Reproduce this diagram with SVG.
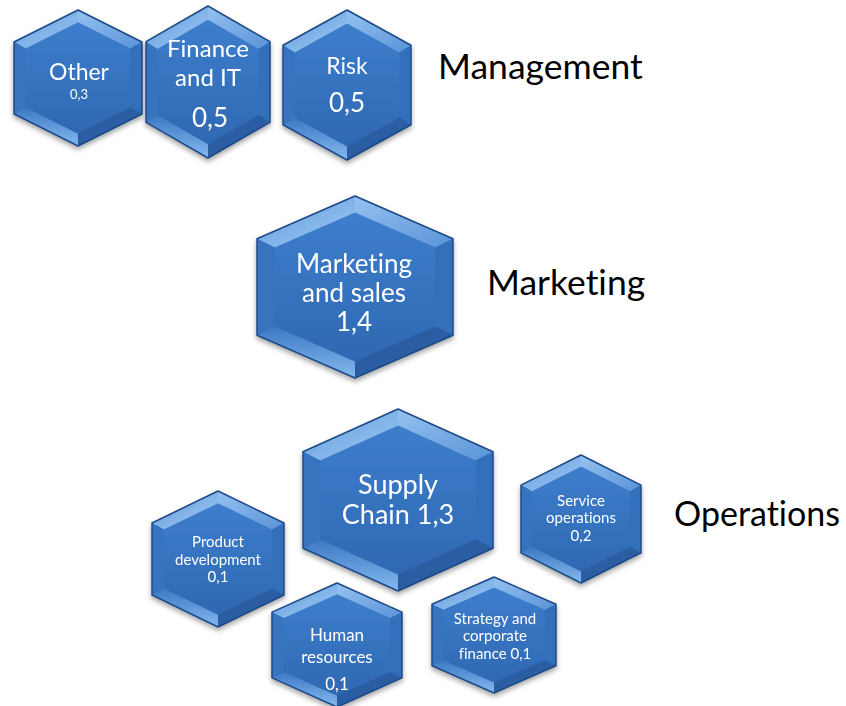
<svg xmlns="http://www.w3.org/2000/svg" xmlns:xlink="http://www.w3.org/1999/xlink" width="846" height="706" viewBox="0 0 846 706">
<style>
.t{font-family:Lato,"Open Sans","Liberation Sans",sans-serif;fill:#ffffff;text-anchor:middle;font-variant-ligatures:none}
.lbl{font-family:Lato,"Open Sans","Liberation Sans",sans-serif;fill:#000000;font-size:35.5px;font-variant-ligatures:none}
.ol{fill:none;stroke:#1f4a85;stroke-width:1.5;vector-effect:non-scaling-stroke;stroke-linejoin:round}
</style>
<defs>
<linearGradient id="face" x1="0" y1="0" x2="0" y2="1">
<stop offset="0" stop-color="#3f80cf"/><stop offset="1" stop-color="#2d66b0"/>
</linearGradient>
<linearGradient id="tl" x1="0" y1="0" x2="1" y2="1">
<stop offset="0" stop-color="#5e98dc"/><stop offset="1" stop-color="#a2ccf4"/>
</linearGradient>
<linearGradient id="tr" x1="0" y1="0" x2="1" y2="1">
<stop offset="0" stop-color="#95c2f0"/><stop offset="1" stop-color="#5a93d8"/>
</linearGradient>
<linearGradient id="bl" x1="0" y1="0" x2="0" y2="1">
<stop offset="0" stop-color="#3c78c3"/><stop offset="1" stop-color="#84b9ef"/>
</linearGradient>
<filter id="sh" x="-20%" y="-20%" width="140%" height="150%">
<feDropShadow dx="0" dy="3" stdDeviation="2.5" flood-color="#000" flood-opacity="0.35"/>
</filter>
<g id="hex">
<polygon points="0,-1 1,-0.53 1,0.53 0,1 -1,0.53 -1,-0.53" fill="url(#face)"/>
<polygon points="-1,-0.53 0,-1 0,-0.82 -0.82,-0.435" fill="url(#tl)"/>
<polygon points="0,-1 1,-0.53 0.82,-0.435 0,-0.82" fill="url(#tr)"/>
<polygon points="1,-0.53 1,0.53 0.82,0.435 0.82,-0.435" fill="#3270bb"/>
<polygon points="1,0.53 0,1 0,0.82 0.82,0.435" fill="#2a5da1"/>
<polygon points="0,1 -1,0.53 -0.82,0.435 0,0.82" fill="url(#bl)"/>
<polygon points="-1,0.53 -1,-0.53 -0.82,-0.435 -0.82,0.435" fill="#3873c0"/>
<polygon class="ol" points="0,-1 1,-0.53 1,0.53 0,1 -1,0.53 -1,-0.53"/>
</g>
</defs>
<rect width="846" height="706" fill="#ffffff"/>

<g id="other" filter="url(#sh)">
<use xlink:href="#hex" transform="translate(78 78) scale(64 68)"/>
<text class="t" x="79" y="80" font-size="23">Other</text>
<text class="t" x="79" y="99" font-size="13">0,3</text>
</g>
<g id="finance" filter="url(#sh)">
<use xlink:href="#hex" transform="translate(208 82) scale(62 76)"/>
<text class="t" x="208" y="57" font-size="24">Finance</text>
<text class="t" x="208" y="86" font-size="24">and IT</text>
<text class="t" x="210" y="127" font-size="26">0,5</text>
</g>
<g id="risk" filter="url(#sh)">
<use xlink:href="#hex" transform="translate(347 85) scale(64 75)"/>
<text class="t" x="347" y="74" font-size="23">Risk</text>
<text class="t" x="347" y="112" font-size="26">0,5</text>
</g>
<g id="marketing" filter="url(#sh)">
<use xlink:href="#hex" transform="translate(355 287) scale(98 91)"/>
<text class="t" x="354" y="273" font-size="26">Marketing</text>
<text class="t" x="354" y="302" font-size="26">and sales</text>
<text class="t" x="354" y="331" font-size="26">1,4</text>
</g>
<g id="supply" filter="url(#sh)">
<use xlink:href="#hex" transform="translate(398 500) scale(95 91)"/>
<text class="t" x="398" y="494" font-size="27">Supply</text>
<text class="t" x="398" y="524" font-size="27">Chain 1,3</text>
</g>
<g id="service" filter="url(#sh)">
<use xlink:href="#hex" transform="translate(581 519) scale(60 64)"/>
<text class="t" x="581" y="506" font-size="15">Service</text>
<text class="t" x="581" y="523" font-size="15">operations</text>
<text class="t" x="581" y="541" font-size="15">0,2</text>
</g>
<g id="product" filter="url(#sh)">
<use xlink:href="#hex" transform="translate(218 559) scale(66 68)"/>
<text class="t" x="218" y="547" font-size="15">Product</text>
<text class="t" x="218" y="565" font-size="15">development</text>
<text class="t" x="218" y="582" font-size="15">0,1</text>
</g>
<g id="human" filter="url(#sh)">
<use xlink:href="#hex" transform="translate(337 645) scale(65 62)"/>
<text class="t" x="337" y="641" font-size="17">Human</text>
<text class="t" x="337" y="663" font-size="17">resources</text>
<text class="t" x="337" y="690" font-size="17">0,1</text>
</g>
<g id="strategy" filter="url(#sh)">
<use xlink:href="#hex" transform="translate(494 635) scale(62 58)"/>
<text class="t" x="495" y="624" font-size="15">Strategy and</text>
<text class="t" x="495" y="641" font-size="15">corporate</text>
<text class="t" x="495" y="659" font-size="15">finance 0,1</text>
</g>

<g id="labels">
<text class="lbl" x="438" y="79">Management</text>
<text class="lbl" x="487" y="295">Marketing</text>
<text class="lbl" x="674" y="526" style="font-size:34px">Operations</text>
</g>
<g id="connectors"/>
</svg>
